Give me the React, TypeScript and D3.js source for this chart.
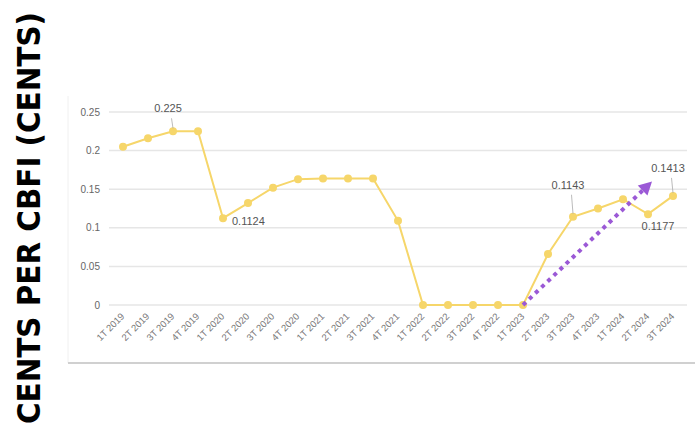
import React from "react";
import * as d3 from "d3";

const categories = [
  "1T 2019", "2T 2019", "3T 2019", "4T 2019",
  "1T 2020", "2T 2020", "3T 2020", "4T 2020",
  "1T 2021", "2T 2021", "3T 2021", "4T 2021",
  "1T 2022", "2T 2022", "3T 2022", "4T 2022",
  "1T 2023", "2T 2023", "3T 2023", "4T 2023",
  "1T 2024", "2T 2024", "3T 2024",
];
const values = [
  0.205, 0.216, 0.225, 0.225,
  0.1124, 0.132, 0.152, 0.163,
  0.164, 0.164, 0.164, 0.109,
  0, 0, 0, 0,
  0, 0.066, 0.1143, 0.125,
  0.137, 0.1177, 0.1413,
];
const yTicks = [0, 0.05, 0.1, 0.15, 0.2, 0.25];
const yTickLabels = ["0", "0.05", "0.1", "0.15", "0.2", "0.25"];
const labeled = [
  { cat: "3T 2019", text: "0.225", dx: -5, dy: -19, anchor: "middle", leader: true },
  { cat: "1T 2020", text: "0.1124", dx: 9, dy: 7, anchor: "start", leader: false },
  { cat: "3T 2023", text: "0.1143", dx: -5, dy: -28, anchor: "middle", leader: true },
  { cat: "2T 2024", text: "0.1177", dx: 10, dy: 16, anchor: "middle", leader: false },
  { cat: "3T 2024", text: "0.1413", dx: -5, dy: -24, anchor: "middle", leader: true },
];
const arrowFrom = { cat: "1T 2023", value: 0 };
const arrowTo = { cat: "2T 2024", value: 0.16 };
const yTitle = "CENTS PER CBFI (CENTS)";

export default function App() {
  const W = 695, H = 426;
  const x = d3.scalePoint<string>().domain(categories).range([123, 673]);
  const y = d3.scaleLinear().domain([0, 0.25]).range([305, 112]);
  const line = d3
    .line<number>()
    .x((_, i) => x(categories[i]) as number)
    .y((d) => y(d));
  const font = "'Liberation Sans', Arial, sans-serif";

  const ax0 = x(arrowFrom.cat) as number;
  const ay0 = y(arrowFrom.value);
  const ax1 = (x(arrowTo.cat) as number) + 4;
  const ay1 = y(arrowTo.value);
  const ang = Math.atan2(ay1 - ay0, ax1 - ax0);
  const headLen = 13, headW = 7;
  const bx = ax1 - headLen * Math.cos(ang);
  const by = ay1 - headLen * Math.sin(ang);
  const px = -Math.sin(ang), py = Math.cos(ang);
  const head = `M${ax1},${ay1} L${bx + px * headW},${by + py * headW} L${bx - px * headW},${by - py * headW} Z`;

  return (
    <svg
      width={W}
      height={H}
      style={{ position: "absolute", left: 0, top: 0, background: "#fff" }}
    >
      {/* card borders */}
      <line x1={68} x2={68} y1={96} y2={363} stroke="#f0f0f0" strokeWidth={1} />
      <line x1={68} x2={695} y1={363} y2={363} stroke="#d0d0d0" strokeWidth={2} />

      {/* gridlines */}
      {yTicks.map((t, i) => (
        <g key={t}>
          <line x1={109} x2={687} y1={y(t)} y2={y(t)} stroke="#e6e6e6" strokeWidth={1.5} />
          <text
            x={100}
            y={y(t)}
            dy="0.35em"
            textAnchor="end"
            fontFamily={font}
            fontSize={10}
            fill="#666"
          >
            {yTickLabels[i]}
          </text>
        </g>
      ))}

      {/* x labels */}
      {categories.map((c) => (
        <text
          key={c}
          transform={`translate(${(x(c) as number) + 2},${317}) rotate(-45)`}
          textAnchor="end"
          fontFamily={font}
          fontSize={9.5}
          fill="#777"
        >
          {c}
        </text>
      ))}

      {/* series */}
      <path d={line(values) || ""} fill="none" stroke="#f6d66a" strokeWidth={2} />
      {values.map((v, i) => (
        <circle key={i} cx={x(categories[i]) as number} cy={y(v)} r={4} fill="#f6d66a" />
      ))}

      {/* data labels */}
      {labeled.map((l) => {
        const i = categories.indexOf(l.cat);
        const cx = x(l.cat) as number;
        const cy = y(values[i]);
        return (
          <g key={l.cat}>
            {l.leader && (
              <line
                x1={cx + l.dx * 0.3}
                y1={cy + l.dy + 6}
                x2={cx}
                y2={cy - 3}
                stroke="#aaa"
                strokeWidth={0.8}
              />
            )}
            <text
              x={cx + l.dx}
              y={cy + l.dy}
              textAnchor={l.anchor as any}
              fontFamily={font}
              fontSize={11}
              fill="#555"
            >
              {l.text}
            </text>
          </g>
        );
      })}

      {/* purple dotted arrow */}
      <line
        x1={ax0}
        y1={ay0}
        x2={bx}
        y2={by}
        stroke="#9b59d6"
        strokeWidth={4}
        strokeDasharray="4 4.5"
      />
      <path d={head} fill="#9b59d6" />

      {/* y title */}
      <text
        transform={`translate(40,12) rotate(-90)`}
        textAnchor="end"
        fontFamily="'DejaVu Sans', 'Liberation Sans', sans-serif"
        fontWeight="bold"
        fontSize={32}
        textLength={412}
        lengthAdjust="spacingAndGlyphs"
        fill="#000"
      >
        {yTitle}
      </text>
    </svg>
  );
}
